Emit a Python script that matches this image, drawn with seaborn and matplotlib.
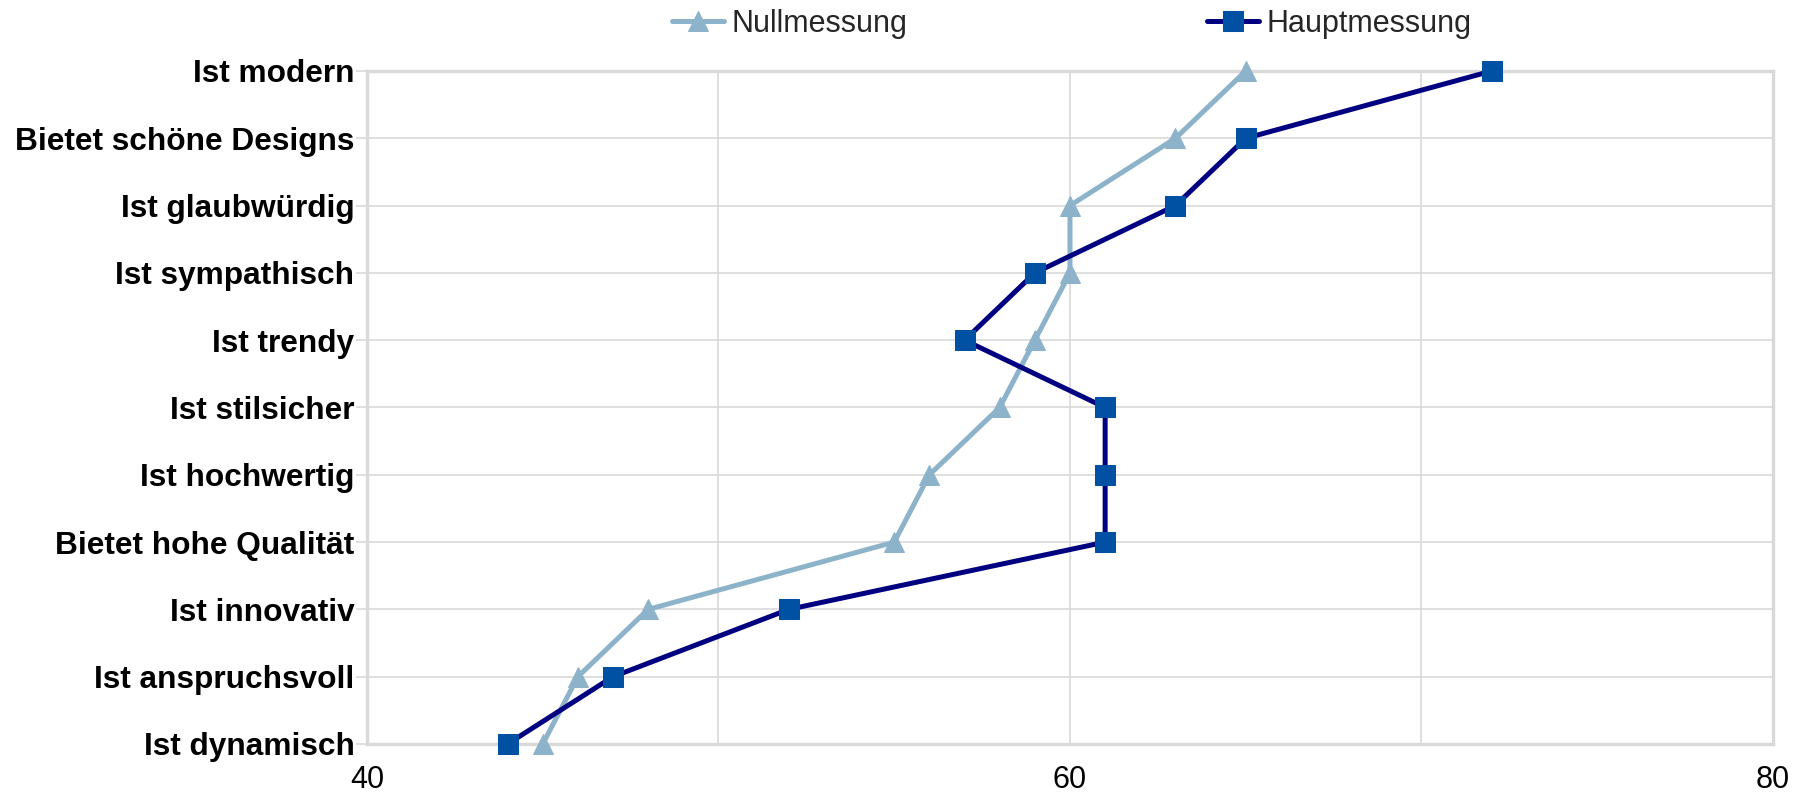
import matplotlib
matplotlib.use("Agg")
import matplotlib.pyplot as plt
import seaborn as sns
import pandas as pd
import numpy as np

# Statements, listed from bottom to top of the chart
statements = [
    "Ist dynamisch",
    "Ist anspruchsvoll",
    "Ist innovativ",
    "Bietet hohe Qualität",
    "Ist hochwertig",
    "Ist stilsicher",
    "Ist trendy",
    "Ist sympathisch",
    "Ist glaubwürdig",
    "Bietet schöne Designs",
    "Ist modern",
]
nullmessung = [45, 46, 48, 55, 56, 58, 59, 60, 60, 63, 65]
hauptmessung = [44, 47, 52, 61, 61, 61, 57, 59, 63, 65, 72]

x_ticks = [40, 50, 60, 70, 80]
x_labels = ["40", "", "60", "", "80"]

sns.set_theme(style="white")
plt.rcParams["font.family"] = ["Liberation Sans", "DejaVu Sans"]

pos = np.arange(len(statements))
df = pd.DataFrame({
    "pos": np.concatenate([pos, pos]),
    "wert": nullmessung + hauptmessung,
    "serie": ["Nullmessung"] * len(pos) + ["Hauptmessung"] * len(pos),
})

fig = plt.figure(figsize=(17.98, 7.93), dpi=100)
ax = fig.add_axes([0.2041, 0.0618, 0.7820, 0.8487])

grid_c = "#d9d9d9"
c_null = "#8db3cb"
c_haupt_line = "#000080"
c_haupt_mark = "#0051a3"

sns.lineplot(
    data=df[df.serie == "Nullmessung"], x="wert", y="pos", sort=False,
    estimator=None, color=c_null, linewidth=3.6, marker="^", markersize=15,
    markeredgecolor=c_null, markerfacecolor=c_null, ax=ax,
    label="Nullmessung", clip_on=False, zorder=3,
)
sns.lineplot(
    data=df[df.serie == "Hauptmessung"], x="wert", y="pos", sort=False,
    estimator=None, color=c_haupt_line, linewidth=3.6, marker="s", markersize=15,
    markeredgecolor=c_haupt_mark, markerfacecolor=c_haupt_mark, ax=ax,
    label="Hauptmessung", clip_on=False, zorder=4,
)

ax.set_xlim(40, 80)
ax.set_ylim(0, len(statements) - 1)
ax.set_xticks(x_ticks)
ax.set_xticklabels(x_labels)
ax.set_yticks(pos)
ax.set_yticklabels(statements, fontweight="bold")
ax.set_xlabel("")
ax.set_ylabel("")

ax.grid(True, color=grid_c, linewidth=1.2, zorder=0)
ax.set_axisbelow(True)
for s in ax.spines.values():
    s.set_visible(True)
    s.set_color(grid_c)
    s.set_linewidth(2.4)

ax.tick_params(axis="y", labelsize=22.8, length=8, width=1.2, color=grid_c,
               pad=1, left=True, labelcolor="black")
ax.tick_params(axis="x", labelsize=22, length=0, pad=15, labelcolor="black")

leg = ax.legend(
    loc="center", ncol=2, frameon=False, fontsize=22, handlelength=1.7,
    handletextpad=0.25, columnspacing=9.8, borderaxespad=0,
)
leg.set_bbox_to_anchor((0.596, 0.97), transform=fig.transFigure)

fig.savefig("out.png", dpi=100)
